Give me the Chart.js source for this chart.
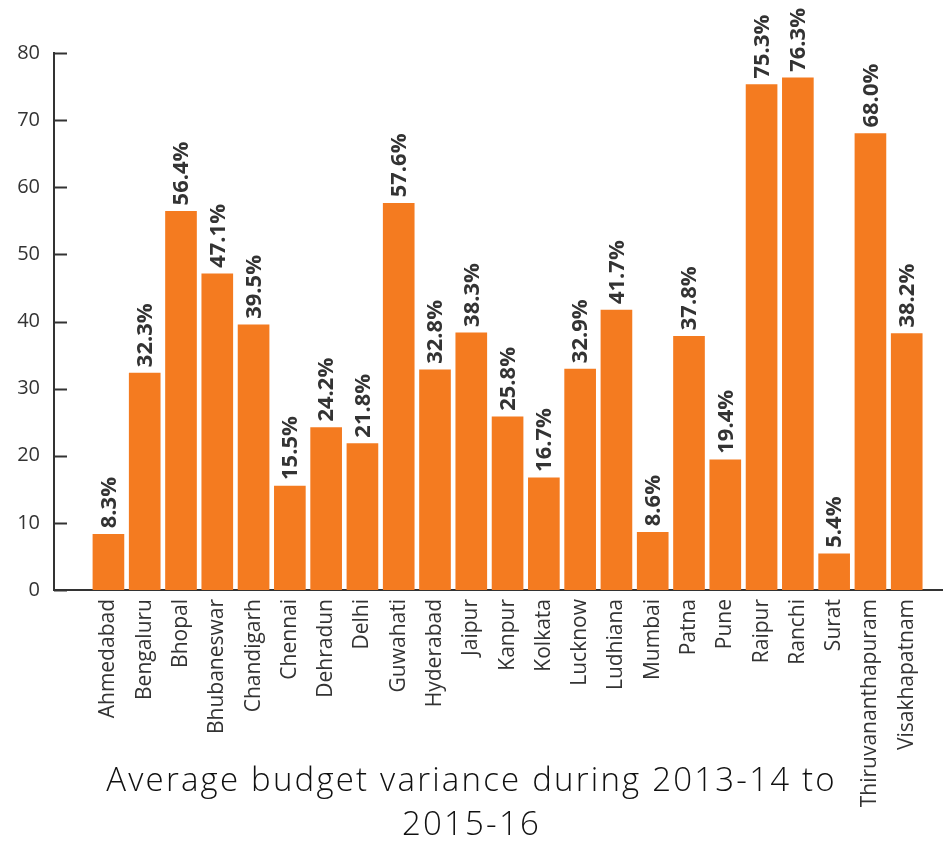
<!DOCTYPE html>
<html>
<head>
<meta charset="utf-8">
<script src="https://cdn.jsdelivr.net/npm/chart.js@4"></script>
<style>
  html, body { margin: 0; padding: 0; background: #fff; }
  #wrap { position: relative; width: 943px; height: 857px; }
  #chart-title {
    position: absolute; left: 0; top: 757px; width: 943px;
    text-align: center; font-family: "Open Sans", sans-serif; font-weight: 300;
    font-size: 33px; letter-spacing: 2.2px; line-height: 44px; color: #111;
  }
</style>
</head>
<body>
<div id="wrap">
  <canvas id="chart-variance" width="943" height="857"></canvas>
  <div id="chart-title">Average budget variance during 2013-14 to<br>2015-16</div>
</div>
<script>
// cities on x axis
const cities = [
  "Ahmedabad", "Bengaluru", "Bhopal", "Bhubaneswar", "Chandigarh", "Chennai",
  "Dehradun", "Delhi", "Guwahati", "Hyderabad", "Jaipur", "Kanpur", "Kolkata",
  "Lucknow", "Ludhiana", "Mumbai", "Patna", "Pune", "Raipur", "Ranchi", "Surat",
  "Thiruvananthapuram", "Visakhapatnam"
];
// average budget variance (%)
const variance = [
  8.3, 32.3, 56.4, 47.1, 39.5, 15.5, 24.2, 21.8, 57.6, 32.8, 38.3, 25.8, 16.7,
  32.9, 41.7, 8.6, 37.8, 19.4, 75.3, 76.3, 5.4, 68.0, 38.2
];
const yTicks = [0, 10, 20, 30, 40, 50, 60, 70, 80];

const ORANGE = "#F47B20";
const INK = "#333";

/** 막대 위 값 라벨 (세로) */
const valueLabels = {
  id: "valueLabels",
  afterDatasetsDraw(chart) {
    const ctx = chart.ctx;
    const meta = chart.getDatasetMeta(0);
    ctx.save();
    ctx.fillStyle = INK;
    ctx.font = "bold 22px 'Open Sans', sans-serif";
    ctx.textAlign = "left";
    ctx.textBaseline = "middle";
    meta.data.forEach((bar, i) => {
      ctx.save();
      ctx.translate(bar.x + 1, bar.y - 6);
      ctx.rotate(-Math.PI / 2);
      ctx.fillText(variance[i].toFixed(1) + "%", 0, 0);
      ctx.restore();
    });
    ctx.restore();
  },
};

/** y축 안쪽 눈금 */
const innerTicks = {
  id: "innerTicks",
  afterDraw(chart) {
    const ctx = chart.ctx;
    const y = chart.scales.y;
    const left = y.right;
    ctx.save();
    ctx.strokeStyle = INK;
    ctx.lineWidth = 2;
    y.ticks.forEach((t) => {
      const py = Math.round(y.getPixelForValue(t.value)) + 0.5;
      ctx.beginPath();
      ctx.moveTo(left, py);
      ctx.lineTo(left + 13, py);
      ctx.stroke();
    });
    ctx.restore();
  },
};

const ctx = document.getElementById("chart-variance").getContext("2d");
new Chart(ctx, {
  type: "bar",
  data: {
    datasets: [
      {
        label: "Average budget variance",
        data: variance.map((v, i) => ({ x: i + 1, y: v })),
        backgroundColor: ORANGE,
        borderWidth: 0,
        barThickness: 31,
      },
    ],
  },
  options: {
    responsive: false,
    animation: false,
    layout: { padding: { top: 53, right: 0, bottom: 0, left: 0 } },
    plugins: {
      legend: { display: false },
      tooltip: { enabled: false },
      title: { display: false },
    },
    scales: {
      x: {
        type: "linear",
        min: -0.5,
        max: 24,
        offset: false,
        grid: { display: false, drawTicks: false },
        border: { display: true, color: INK, width: 2 },
        afterBuildTicks: (scale) => {
          scale.ticks = cities.map((_, i) => ({ value: i + 1 }));
        },
        afterFit: (scale) => {
          scale.height = 267;
          scale.paddingLeft = 0;
          scale.paddingRight = 0;
        },
        ticks: {
          autoSkip: false,
          minRotation: 90,
          maxRotation: 90,
          padding: 9,
          color: INK,
          font: { family: "'Open Sans', sans-serif", size: 21 },
          callback: (v) => cities[v - 1] || "",
        },
      },
      y: {
        min: 0,
        max: 80,
        afterBuildTicks: (scale) => {
          scale.ticks = yTicks.map((v) => ({ value: v }));
        },
        afterFit: (scale) => {
          scale.width = 54;
          scale.paddingTop = 0;
          scale.paddingBottom = 0;
        },
        grid: { display: false, drawTicks: false },
        border: { display: true, color: INK, width: 2 },
        ticks: {
          padding: 14,
          color: INK,
          font: { family: "'Open Sans', sans-serif", size: 20 },
        },
      },
    },
  },
  plugins: [valueLabels, innerTicks],
});
</script>
</body>
</html>
